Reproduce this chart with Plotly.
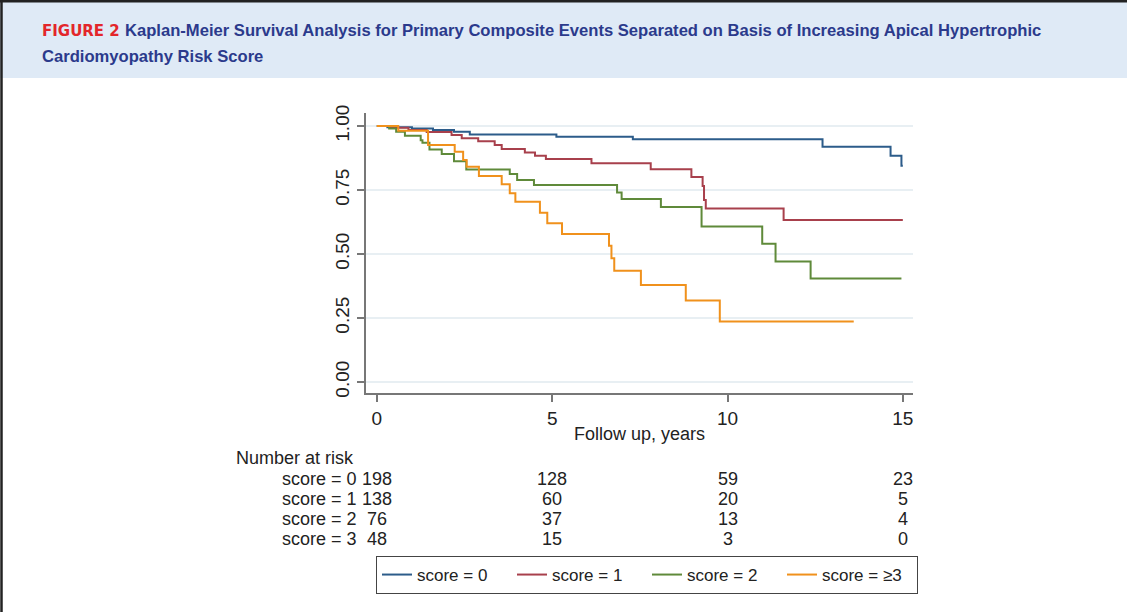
import plotly.graph_objects as go

# ---------------- data ----------------
t_score0 = [0, 0.3, 1.0, 1.6, 2.2, 2.65, 5.12, 7.30, 12.71, 14.65, 14.96, 15.0]
s_score0 = [1.0, 0.995, 0.99, 0.985, 0.978, 0.967, 0.958, 0.948, 0.919, 0.884, 0.845, 0.845]

t_score1 = [0, 0.4, 0.9, 1.42, 2.13, 2.42, 2.89, 3.36, 3.56, 4.22, 4.51, 4.82, 6.12,
            7.81, 8.97, 9.29, 9.33, 9.38, 11.6, 15.0]
s_score1 = [1.0, 0.993, 0.985, 0.977, 0.965, 0.952, 0.941, 0.926, 0.910, 0.897, 0.884, 0.871, 0.855,
            0.831, 0.801, 0.766, 0.711, 0.678, 0.633, 0.633]

t_score2 = [0, 0.35, 0.55, 0.8, 1.25, 1.3, 1.5, 1.85, 2.2, 2.55, 3.79, 4.0, 4.48, 6.85,
            6.98, 8.1, 9.26, 10.99, 11.37, 12.37, 14.96]
s_score2 = [1.0, 0.99, 0.978, 0.962, 0.945, 0.935, 0.908, 0.891, 0.862, 0.83, 0.8125, 0.789, 0.770, 0.740,
            0.715, 0.684, 0.608, 0.540, 0.471, 0.404, 0.404]

t_score3 = [0, 0.61, 1.46, 2.22, 2.46, 2.56, 2.91, 3.56, 3.79, 3.95, 4.65, 4.86, 5.28,
            6.62, 6.69, 6.77, 7.53, 8.81, 9.78, 13.6]
s_score3 = [1.0, 0.982, 0.926, 0.900, 0.867, 0.841, 0.805, 0.773, 0.737, 0.704, 0.661, 0.620, 0.578,
            0.532, 0.483, 0.435, 0.379, 0.318, 0.236, 0.236]

legend_names = ["score = 0", "score = 1", "score = 2", "score = \u22653"]
colors = ["#2c5c8a", "#a8404c", "#5f8a3a", "#f0911c"]

risk_times = [0, 5, 10, 15]
risk_labels = ["score = 0", "score = 1", "score = 2", "score = 3"]
risk_score0 = [198, 128, 59, 23]
risk_score1 = [138, 60, 20, 5]
risk_score2 = [76, 37, 13, 4]
risk_score3 = [48, 15, 3, 0]

y_ticks = [0, 0.25, 0.5, 0.75, 1.0]
y_ticktext = ["0.00", "0.25", "0.50", "0.75", "1.00"]
x_ticks = [0, 5, 10, 15]

# ---------------- layout geometry (pixels) ----------------
W, H = 1127, 612
L, R, T, B = 366, 913, 113, 393


def px(xp):
    return (xp - L) / (R - L)


def py(yp):
    return (B - yp) / (B - T)


fig = go.Figure()
series = [(t_score0, s_score0), (t_score1, s_score1), (t_score2, s_score2), (t_score3, s_score3)]
for (tt, ss), name, c in zip(series, legend_names, colors):
    fig.add_trace(go.Scatter(x=tt, y=ss, mode="lines", line=dict(color=c, width=2, shape="hv"),
                             name=name))

sans = "Liberation Sans"
txt = "#222"
ann = []
# header
ann.append(dict(text="<b>FIGURE 2</b>", x=px(40), y=py(31), xref="paper", yref="paper",
                xanchor="left", yanchor="middle", showarrow=False,
                font=dict(family="DejaVu Sans", size=15, color="#e3262b")))
ann.append(dict(text="<b>Kaplan-Meier Survival Analysis for Primary Composite Events Separated on Basis of Increasing Apical Hypertrophic</b>",
                x=px(123), y=py(31), xref="paper", yref="paper", xanchor="left", yanchor="middle",
                showarrow=False, font=dict(family=sans, size=16.6, color="#2b3a8c")))
ann.append(dict(text="<b>Cardiomyopathy Risk Score</b>",
                x=px(40), y=py(56), xref="paper", yref="paper", xanchor="left", yanchor="middle",
                showarrow=False, font=dict(family=sans, size=16.6, color="#2b3a8c")))
# axis title
ann.append(dict(text="Follow up, years", x=px(639), y=py(434), xref="paper", yref="paper",
                xanchor="center", yanchor="middle", showarrow=False,
                font=dict(family=sans, size=18, color=txt)))
# risk table
ann.append(dict(text="Number at risk", x=px(234), y=py(458), xref="paper", yref="paper",
                xanchor="left", yanchor="middle", showarrow=False,
                font=dict(family=sans, size=18, color=txt)))
rows_y = [479, 499, 519, 539]
for lab, vals, yy in zip(risk_labels, [risk_score0, risk_score1, risk_score2, risk_score3], rows_y):
    ann.append(dict(text=lab, x=px(359), y=py(yy), xref="paper", yref="paper",
                    xanchor="right", yanchor="middle", showarrow=False,
                    font=dict(family=sans, size=18, color=txt)))
    for tv, v in zip(risk_times, vals):
        ann.append(dict(text=str(v), x=tv, y=py(yy), xref="x", yref="paper",
                        xanchor="center", yanchor="middle", showarrow=False,
                        font=dict(family=sans, size=18, color=txt)))

shapes = [
    dict(type="rect", xref="paper", yref="paper", x0=px(0), x1=px(W), y0=py(78), y1=py(2),
         fillcolor="#dfeaf6", line=dict(width=0), layer="below"),
    dict(type="line", xref="paper", yref="paper", x0=px(0), x1=px(W), y0=py(1.2), y1=py(1.2),
         line=dict(color="#222", width=2.5)),
    dict(type="line", xref="paper", yref="paper", x0=px(1.5), x1=px(1.5), y0=py(0), y1=py(H),
         line=dict(color="#222", width=2.5)),
]

fig.update_layout(
    width=W, height=H,
    margin=dict(l=L, r=W - R, t=T, b=H - B, pad=0),
    paper_bgcolor="white", plot_bgcolor="white",
    showlegend=True,
    legend=dict(orientation="h", x=px(376), y=py(556), xanchor="left", yanchor="top",
                bordercolor="#444", borderwidth=1, bgcolor="white",
                font=dict(family=sans, size=17, color=txt),
                entrywidth=90, entrywidthmode="pixels", itemwidth=30),
    annotations=ann,
    shapes=shapes,
    xaxis=dict(range=[-0.31, 15.29], tickvals=x_ticks, showline=True, linecolor="#777", linewidth=2,
               ticks="outside", ticklen=7, tickcolor="#777", tickwidth=1.5, showgrid=False, zeroline=False,
               tickfont=dict(family=sans, size=19, color=txt)),
    yaxis=dict(range=[-0.043, 1.051], tickvals=y_ticks, ticktext=y_ticktext, tickangle=-90,
               showline=True, linecolor="#777", linewidth=2, ticks="outside", ticklen=7,
               tickcolor="#777", tickwidth=1.5, showgrid=True, gridcolor="#e8eff3", gridwidth=1.5,
               zeroline=False, tickfont=dict(family=sans, size=19, color=txt)),
)

fig.write_html("out.html", config={"displayModeBar": False},
               post_script="document.body.style.margin='0';")
